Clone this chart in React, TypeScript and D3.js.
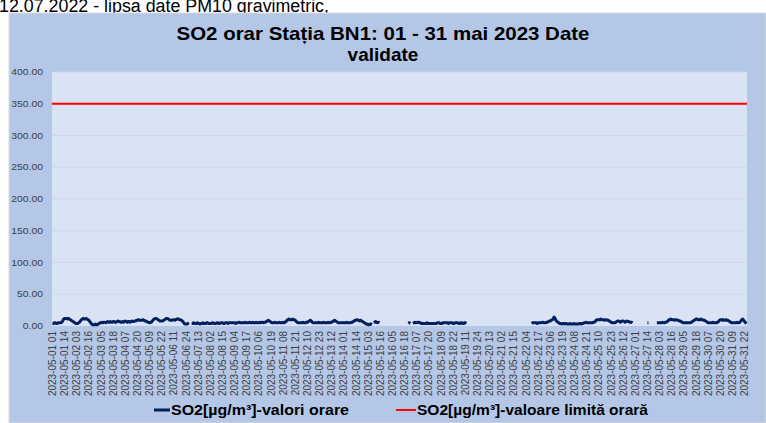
import React from "react";
import * as d3 from "d3";

const _ = null;

const pageNote = "12.07.2022 - lipsa date PM10 gravimetric,";
const titleLines = ["SO2 orar Stația BN1: 01 - 31 mai 2023 Date", "validate"];
const seriesName = "SO2[µg/m³]-valori orare";
const limitName = "SO2[µg/m³]-valoare limită orară";
const limitValue = 350;
const yTicks = [0, 50, 100, 150, 200, 250, 300, 350, 400];

// hourly values, one row per day of May 2023 (hours 01..24), null = no data
const so2ByDay: (number | null)[][] = [
  [4, 4, 5, 5, 4, 4, 5, 5, 5, 5, 6, 8, 11, 12, 12, 12, 11, 12, 11, 10, 9, 8, 7, 6],
  [5, 4, 4, 4, 5, 6, 8, 10, 11, 12, 11, 11, 12, 11, 10, 9, 7, 5, 3, 2, 2, 2, 3, 2],
  [2, 3, 4, 5, 5, 6, 5, 6, 6, 5, 6, 7, 6, 6, 7, 6, 6, 7, 7, 6, 6, 7, 8, 7],
  [7, 6, 6, 7, 6, 7, 8, 7, 6, 7, 7, 6, 7, 8, 7, 7, 8, 8, 9, 9, 10, 9, 9, 9],
  [9, 10, 9, 8, 8, 7, 6, 6, 5, 6, 6, 8, 10, 11, 12, 12, 11, 10, 9, 8, 8, 8, 8, 9],
  [10, 11, 12, 12, 11, 10, 9, 9, 9, 10, 10, 9, 10, 11, 11, 11, 10, 10, 9, 8, 6, 4, 3, 3],
  [3, 4, 5, _, _, 4, 4, 5, 4, 4, 4, 5, 4, 4, 3, 4, 4, 5, 4, 4, 4, 5, 5, 4],
  [4, 4, 4, 5, 5, 4, 4, 4, 5, 5, 4, 4, 5, 5, 5, 4, 4, 5, 5, 5, 4, 5, 5, 5],
  [5, 5, 5, 5, 4, 5, 5, 5, 6, 5, 5, 5, 5, 5, 6, 5, 5, 5, 5, 6, 5, 5, 6, 5],
  [5, 5, 6, 5, 5, 5, 6, 5, 6, 6, 5, 6, 6, 7, 8, 9, 8, 7, 6, 5, 5, 5, 6, 5],
  [5, 5, 5, 6, 5, 5, 5, 6, 5, 6, 7, 9, 10, 11, 10, 10, 10, 11, 10, 10, 9, 7, 6, 5],
  [5, 5, 5, 5, 6, 5, 5, 5, 6, 6, 7, 8, 9, 8, 6, 5, 5, 5, 5, 5, 5, 6, 5, 5],
  [5, 5, 6, 5, 5, 5, 5, 6, 5, 5, 6, 6, 7, 8, 9, 8, 7, 6, 5, 5, 5, 5, 5, 5],
  [5, 5, 5, 6, 5, 5, 5, 5, 6, 6, 7, 8, 9, 9, 10, 9, 9, 8, 9, 8, 7, 6, 5, 4],
  [3, 3, 2, 2, 3, 3, 2, _, 5, 6, 7, 6, 5, 6, 5, _, _, _, _, _, _, _, _, _],
  [_, _, _, _, _, _, _, _, _, _, _, _, _, _, _, _, _, _, _, _, _, 4, 5, 4],
  [_, _, 4, 5, 6, 5, 5, 6, 6, 5, 5, 4, 4, 4, 4, 4, 4, 5, 4, 4, 4, 4, 4, 4],
  [4, 4, 4, 4, 5, 5, 5, 4, 4, 4, 5, 5, 5, 5, 5, 5, 4, 5, 5, 5, 5, 4, 4, 5],
  [5, 5, 5, 4, 4, 5, 5, 4, 4, 5, 5, 4, _, _, _, _, _, _, _, _, _, _, _, _],
  [_, _, _, _, _, _, _, _, _, _, _, _, _, _, _, _, _, _, _, _, _, _, _, _],
  [_, _, _, _, _, _, _, _, _, _, _, _, _, _, _, _, _, _, _, _, _, _, _, _],
  [_, _, _, _, _, _, _, _, _, 4, 5, 5, 5, 5, 5, 4, 5, 5, 5, 5, 6, 6, 5, 5],
  [5, 6, 6, 7, 8, 8, 9, 10, 11, 14, 12, 9, 7, 6, 5, 4, 4, 3, 4, 4, 3, 4, 4, 3],
  [3, 3, 4, 3, 3, 3, 4, 3, 3, 3, 3, 3, 4, 4, 3, 4, 4, 5, 5, 6, 5, 5, 5, 5],
  [5, 5, 5, 6, 6, 7, 9, 10, 10, 10, 10, 11, 10, 10, 10, 9, 10, 10, 9, 9, 8, 7, 6, 5],
  [5, 5, 5, 6, 7, 8, 8, 7, 6, 7, 8, 8, 7, 6, 7, 8, 7, 7, 6, 6, 6, 5, _, _],
  [_, _, _, _, _, _, _, _, _, _, _, _, _, 5, 5, _, _, _, _, _, _, _, _, 5],
  [5, 5, 5, 5, 5, 6, 5, 5, 6, 6, 7, 8, 10, 10, 11, 10, 10, 10, 9, 10, 10, 9, 9, 8],
  [8, 7, 6, 5, 5, 5, 5, 5, 5, 5, 5, 5, 6, 7, 8, 9, 10, 11, 11, 10, 10, 10, 11, 10],
  [10, 9, 9, 8, 7, 6, 5, 5, 5, 5, 5, 6, 5, 5, 5, 5, 6, 7, 9, 10, 10, 9, 10, 9],
  [9, 10, 9, 9, 8, 7, 6, 5, 5, 5, 5, 5, 5, 6, 5, 5, 6, 8, 10, 11, 9, 7, 5, 4],
];

const pad = (n: number) => String(n).padStart(2, "0");
// category labels "2023-05-DD HH", hours numbered 01..24 as in the source sheet
const categories: string[] = so2ByDay.flatMap((row, d) =>
  row.map((_v, h) => `2023-05-${pad(d + 1)} ${pad(h + 1)}`)
);
const so2Values: (number | null)[] = so2ByDay.flat();
const tickLabels = categories.filter((_c, i) => i % 13 === 0);

const W = 766;
const H = 423;
const plot = { left: 52, right: 747, top: 72, bottom: 326 };
const font = "'Liberation Sans', Arial, sans-serif";

export default function App() {
  const x = d3.scaleBand<string>().domain(categories).range([plot.left, plot.right]).padding(0);
  const y = d3.scaleLinear().domain([0, 400]).range([plot.bottom, plot.top]);
  const cx = (c: string) => (x(c) as number) + x.bandwidth() / 2;
  const fmt = d3.format(".2f");

  const series = categories.map((c, i) => ({ c, v: so2Values[i] }));
  const line = d3
    .line<{ c: string; v: number | null }>()
    .defined((d) => d.v != null)
    .x((d) => cx(d.c))
    .y((d) => y(d.v as number));
  const limitLine = d3
    .line<string>()
    .x((c, i) => (i === 0 ? plot.left : i === categories.length - 1 ? plot.right : cx(c)))
    .y(() => y(limitValue));

  return (
    <svg width={W} height={H} style={{ position: "absolute", left: 0, top: 0, background: "#fff" }}>
      <text x={-1} y={12} fontFamily={font} fontSize={18} fill="#000" textLength={330} lengthAdjust="spacingAndGlyphs">
        {pageNote}
      </text>
      <rect x={9} y={13} width={W - 9} height={H - 13} fill="#b4c7e7" stroke="#d9d9d9" strokeWidth={1} />
      <text x={383} y={40} textAnchor="middle" fontFamily={font} fontWeight="bold" fontSize={19} fill="#000"
        textLength={413} lengthAdjust="spacingAndGlyphs">
        {titleLines[0]}
      </text>
      <text x={383} y={61} textAnchor="middle" fontFamily={font} fontWeight="bold" fontSize={19} fill="#000">
        {titleLines[1]}
      </text>
      <rect x={plot.left} y={plot.top} width={plot.right - plot.left} height={plot.bottom - plot.top} fill="#dae3f3" />
      {yTicks.map((t) => (
        <g key={t}>
          {t > 0 && (
            <line x1={plot.left} x2={plot.right} y1={y(t)} y2={y(t)} stroke="#cdd5e3" strokeWidth={0.8} />
          )}
          <text transform={`translate(43,${y(t) + 3}) scale(1.15,1)`} textAnchor="end" fontFamily={font}
            fontSize={9} fill="#404040">
            {fmt(t)}
          </text>
        </g>
      ))}
      {tickLabels.map((c) => (
        <text key={c} transform={`translate(${cx(c) + 3.5},${plot.bottom + 5}) rotate(-90)`} textAnchor="end"
          fontFamily={font} fontSize={10} fill="#404040">
          {c}
        </text>
      ))}
      <path d={limitLine(categories) ?? ""} fill="none" stroke="#ff0000" strokeWidth={2} />
      <path d={line(series) ?? ""} fill="none" stroke="#002060" strokeWidth={3} strokeLinejoin="round" />
      <g fontFamily={font} fontWeight="bold" fontSize={14} fill="#000">
        <line x1={154} x2={170} y1={410} y2={410} stroke="#002060" strokeWidth={3} />
        <text x={171} y={415} textLength={178} lengthAdjust="spacingAndGlyphs">{seriesName}</text>
        <line x1={396} x2={416} y1={410} y2={410} stroke="#ff0000" strokeWidth={2} />
        <text x={417} y={415} textLength={231} lengthAdjust="spacingAndGlyphs">{limitName}</text>
      </g>
    </svg>
  );
}
